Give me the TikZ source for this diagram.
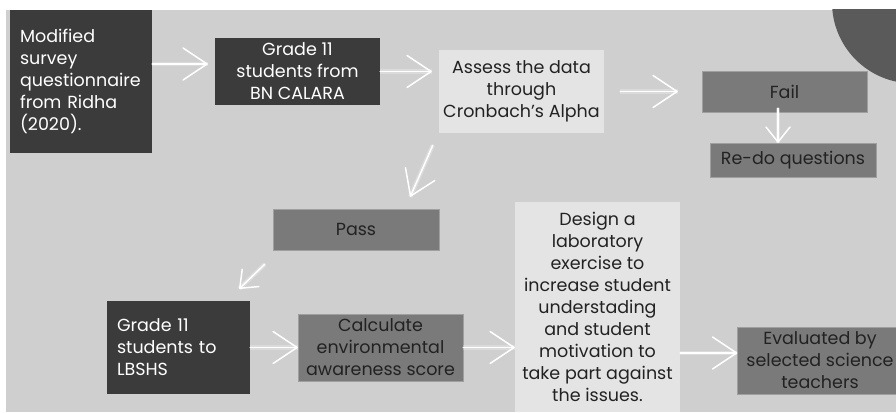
\documentclass[tikz,border=0pt]{standalone}
\usepackage{xcolor}
\definecolor{bggray}{HTML}{CFCFCF}
\definecolor{boxdark}{HTML}{3B3B3B}
\definecolor{boxmid}{HTML}{7A7A7A}
\definecolor{boxlight}{HTML}{E4E4E4}
\definecolor{circlegray}{HTML}{5A5A5A}
\definecolor{inkgray}{HTML}{222222}
\usepackage{fontspec}
\setmainfont{Poppins}
\usetikzlibrary{arrows.meta}

\begin{document}
\begin{tikzpicture}[x=1pt, y=1pt,
  every node/.style={font=\fontsize{17.5}{22}\selectfont, inner sep=0pt},
  darkbox/.style={fill=boxdark, text=white},
  midbox/.style={fill=boxmid, draw=gray!75, text=inkgray, align=center},
  lightbox/.style={fill=boxlight, text=inkgray, align=center},
  flow/.style={draw=white, line width=1.5pt, line cap=round,
    preaction={draw=white, opacity=0.25, line width=4.5pt, -},
    -{Straight Barb[length=24pt, width=32pt, round]}},
  flowsmall/.style={flow, -{Straight Barb[length=15pt, width=24pt, round]}}]
  % Canvas
  \useasboundingbox (0,0) rectangle (896,412);
  \fill[white] (0,0) rectangle (896,412);
  \fill[bggray] (6,0) rectangle (896,402);
  \begin{scope}
    \clip (6,0) rectangle (896,402);
    \fill[circlegray] (913,409.6) circle (81);
  \end{scope}

  % Top row
  \node[darkbox, minimum width=142, minimum height=143, text width=122, align=left] (survey) at (81,330.5)
    {Modified\\survey\\questionnaire\\from Ridha\\(2020).};
  \node[darkbox, minimum width=165, minimum height=67, align=center] (grade) at (297.5,340.5)
    {Grade 11\\students from\\BN CALARA};
  \node[lightbox, minimum width=165, minimum height=83] (assess) at (521.5,320.5)
    {Assess the data\\through\\Cronbach's Alpha};
  \node[midbox, minimum width=165, minimum height=41] (fail) at (784.5,320.5) {Fail};
  \node[midbox, minimum width=166, minimum height=34] (redo) at (793,252) {Re-do questions};

  % Middle
  \node[midbox, minimum width=166, minimum height=41] (pass) at (356,182.5) {Pass};

  % Bottom row
  \node[darkbox, minimum width=143, minimum height=93, text width=123, align=left] (lbshs) at (178.5,64.5)
    {Grade 11\\students to\\LBSHS};
  \node[midbox, minimum width=165, minimum height=67] (calc) at (380.5,64.5)
    {Calculate\\environmental\\awareness score};
  \node[lightbox, minimum width=165, minimum height=210] (design) at (597.5,105)
    {Design a\\laboratory\\exercise to\\increase student\\understading\\and student\\motivation to\\take part against\\the issues.};
  \node[midbox, minimum width=165, minimum height=67] (eval) at (820,51.5)
    {Evaluated by\\selected science\\teachers};

  % Connectors
  \draw[flow, shorten >=7pt] ([yshift=7.5pt]grade.west -| survey.east) -- ([yshift=7.5pt]grade.west);
  \draw[flow, shorten >=7pt] (grade.east) -- (grade.east -| assess.west);
  \draw[flow, shorten <=16pt, shorten >=24pt] (assess.east) -- (assess.east -| fail.west);
  \draw[flowsmall, shorten <=-4pt] ([xshift=-6.5pt]fail.south) -- ([xshift=-6.5pt]fail.south |- redo.north);
  \draw[flow] ([xshift=-6pt, yshift=-12pt]assess.south west) -- ([xshift=-29pt, yshift=12pt]pass.north east);
  \draw[flowsmall] ([xshift=-8pt, yshift=-14pt]pass.south west) -- ([xshift=-11pt, yshift=12pt]lbshs.north east);
  \draw[flow] (lbshs.east) -- (calc.west);
  \draw[flow] (calc.east) -- (calc.east -| design.west);
  \draw[flow] ([yshift=7.5pt]eval.west -| design.east) -- ([yshift=7.5pt]eval.west);
\end{tikzpicture}
\end{document}
